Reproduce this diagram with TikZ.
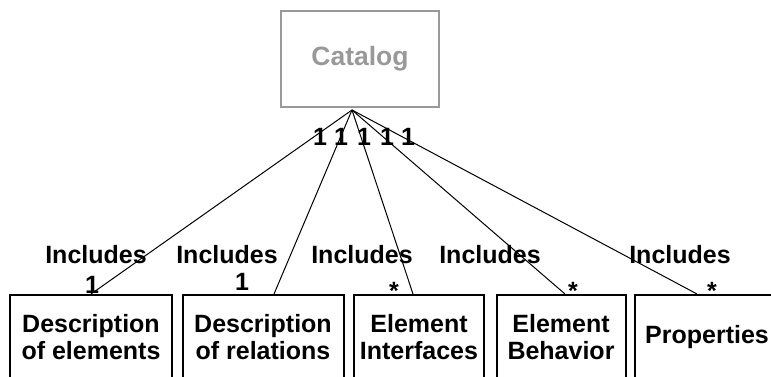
\documentclass[tikz,border=0pt]{standalone}
\usepackage{fontspec}
\setmainfont{Liberation Sans}
\usetikzlibrary{positioning,calc}

\begin{document}
\begin{tikzpicture}[x=1pt, y=-1pt,
        every node/.style={font=\fontsize{25}{27}\selectfont\bfseries},
        part/.style={draw, line width=2pt, minimum height=84pt, align=center, inner sep=0pt},
        link/.style={line width=1pt}]
        \useasboundingbox (0,0) rectangle (771,377);
        \clip (0,0) rectangle (771,377);
        % Catalog
        \node [draw=gray!80, text=gray!80, line width=2pt, minimum width=158pt, minimum height=96pt,
               font=\fontsize{26.5}{28}\selectfont\bfseries] (cat) at (360,59) {Catalog};
        \coordinate (hub) at ([xshift=-8pt, yshift=-2pt]cat.south);
        % Parts
        \node [part, minimum width=162pt] (elems) at (91,337) {Description\\of elements};
        \node [part, minimum width=161pt] (rels) at (263,337) {Description\\of relations};
        \node [part, minimum width=130pt] (intf) at (419,337) {Element\\Interfaces};
        \node [part, minimum width=129pt] (behav) at (561,337) {Element\\Behavior};
        \node [part, minimum width=144pt] (props) at (707,337) {Properties};
        % Links
        \draw [link] (hub) -- (elems.north);
        \draw [link] (hub) -- ([xshift=11pt]rels.north);
        \draw [link] (hub) -- ([xshift=-6pt]intf.north);
        \draw [link] (hub) -- ([xshift=4pt]behav.north);
        \draw [link] (hub) -- ([xshift=-10pt]props.north);
        % Multiplicities
        \foreach \x [count=\i] in {320,341,364,387,408}
            \node [anchor=base] (one\i) at (\x,146) {1};
        \node [anchor=base] (m1) at (92,293) {1};
        \node [anchor=base] (m2) at (242,290) {1};
        \node [anchor=base] (m3) at (394,299) {*};
        \node [anchor=base] (m4) at (573,299) {*};
        \node [anchor=base] (m5) at (712,299) {*};
        % Labels
        \foreach \x [count=\i] in {96,227,362,490,680}
            \node [anchor=base] (inc\i) at (\x,263) {Includes};
\end{tikzpicture}
\end{document}
